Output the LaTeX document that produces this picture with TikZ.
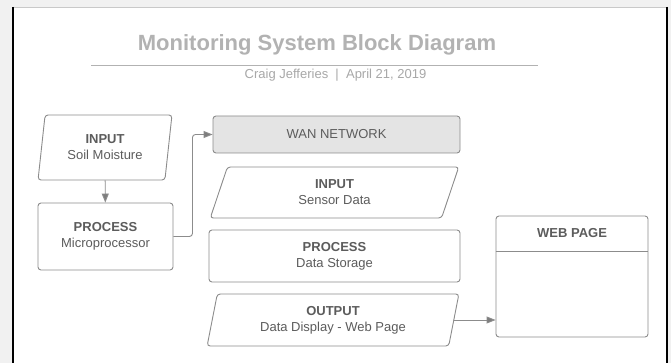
\documentclass[tikz,border=0pt]{standalone}
\usepackage{fontspec}
\setmainfont{Liberation Sans}
\usepackage{tikz}
\usepackage{xcolor}
\usetikzlibrary{
    arrows.meta,
    shapes.geometric,
    calc,
    positioning
}
\definecolor{pagegrey}{HTML}{F1F1F1}
\definecolor{titlegrey}{HTML}{B2B2B2}
\definecolor{subgrey}{HTML}{A8A8A8}
\definecolor{linegrey}{HTML}{8C8C8C}
\definecolor{textgrey}{HTML}{5C5C5C}
\definecolor{wanfill}{HTML}{E4E4E4}

\tikzset{
    blockbox/.style={draw=linegrey, line width=0.9pt, rounded corners=3pt,
        rectangle, align=center, text=textgrey, inner sep=0pt,
        font=\fontsize{13}{16}\selectfont},
    parabox/.style={blockbox, trapezium, trapezium stretches=true,
        trapezium left angle=#1, trapezium right angle=180-#1},
    parabox/.default=77,
    flow/.style={draw=linegrey, line width=0.9pt,
        -{Triangle[length=9pt,width=7pt,fill=textgrey!80]}},
}
\newcommand{\head}[1]{\textbf{#1}}

\begin{document}
\begin{tikzpicture}[x=1pt, y=-1pt]
    % page and panel
    \fill[pagegrey] (0,0) rectangle (671,363);
    \useasboundingbox (0,0) rectangle (671,363);
    \fill[white] (13,7) rectangle (667,363);
    \draw[titlegrey!70, line width=0.8pt] (13,7) -- (667,7);
    \draw[black, line width=2.2pt] (13,7) -- (13,363);
    \draw[black, line width=2.2pt] (667,7) -- (667,363);

    % heading
    \node[text=titlegrey, font=\fontsize{22}{26}\selectfont\bfseries] (title) at (317,45) {Monitoring System Block Diagram};
    \coordinate (ruleL) at (91,65.5);
    \coordinate (ruleR) at (538,65.5);
    \draw[titlegrey, line width=1.2pt] (ruleL) -- (ruleR);
    \node[text=subgrey, font=\fontsize{13}{16}\selectfont] (byline) at (335.5,75) {Craig Jefferies~~|~~April 21, 2019};

    % left column
    \node[parabox=80, minimum width=134pt, minimum height=65pt] (soil) at (105,147.5)
        {\head{INPUT}\\Soil Moisture};
    \node[blockbox, minimum width=135pt, minimum height=67pt] (micro) at (105.5,236.5)
        {\head{PROCESS}\\Microprocessor};

    % middle column
    \node[blockbox, fill=wanfill, minimum width=247pt, minimum height=37pt] (wan) at (336.5,134.5)
        {WAN NETWORK};
    \node[parabox, minimum width=249pt, minimum height=51pt] (sensor) at (334.5,192.5)
        {\head{INPUT}\\Sensor Data};
    \node[blockbox, minimum width=251pt, minimum height=52pt] (storage) at (334.5,256)
        {\head{PROCESS}\\Data Storage};
    \node[parabox, minimum width=252pt, minimum height=52pt] (output) at (333,320)
        {\head{OUTPUT}\\Data Display - Web Page};

    % web page
    \node[blockbox, minimum width=152pt, minimum height=121pt] (web) at (572,276.5) {};
    \node[text=textgrey, font=\fontsize{13}{16}\selectfont\bfseries] (webtitle) at (572,233) {WEB PAGE};
    \draw[linegrey, line width=0.9pt] (web.west |- 0,251) -- (web.east |- 0,251);

    % connectors
    \draw[flow] (soil) -- (micro);
    \draw[flow, rounded corners=3pt] (micro.east) -- ++(19,0) |- (wan.west);
    \draw[flow] (output.east) -- (output.east -| web.west);
\end{tikzpicture}
\end{document}
